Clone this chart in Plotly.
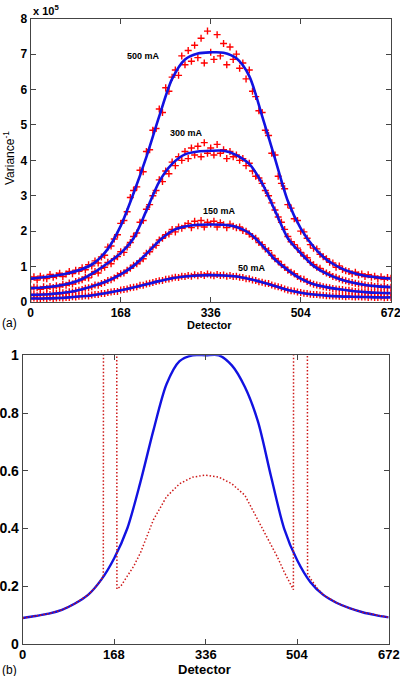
import plotly.graph_objects as go

W, H = 400, 676

# ---------------- data (top panel, values in units of 1e5) ----------------
detector_fit = list(range(0, 673, 24))
detector_meas = list(range(0, 673, 6))
currents = ["500 mA", "300 mA", "150 mA", "50 mA"]

fit_500 = [0.66, 0.70, 0.75, 0.82, 0.93, 1.12, 1.5, 2.15, 3.07, 4.1,
           5.25, 6.3, 6.85, 7.02, 7.05, 7.04, 6.88, 6.38, 5.25, 4.05,
           2.85, 2.08, 1.56, 1.2, 0.98, 0.83, 0.74, 0.69, 0.66]
fit_300 = [0.39, 0.41, 0.45, 0.52, 0.65, 0.85, 1.1, 1.38, 1.8, 2.58,
           3.4, 3.9, 4.17, 4.25, 4.27, 4.27, 4.15, 3.9, 3.35, 2.58,
           1.8, 1.38, 1.02, 0.8, 0.65, 0.55, 0.48, 0.44, 0.42]
fit_150 = [0.2, 0.21, 0.24, 0.28, 0.36, 0.47, 0.6, 0.78, 1.02, 1.36,
           1.73, 2.01, 2.13, 2.18, 2.19, 2.18, 2.12, 1.95, 1.6, 1.2,
           0.9, 0.66, 0.5, 0.42, 0.36, 0.31, 0.28, 0.26, 0.25]
fit_50 = [0.1, 0.1, 0.11, 0.13, 0.16, 0.2, 0.26, 0.33, 0.41, 0.5,
          0.59, 0.67, 0.72, 0.75, 0.76, 0.75, 0.72, 0.65, 0.56, 0.45,
          0.34, 0.26, 0.21, 0.18, 0.16, 0.15, 0.14, 0.13, 0.13]

meas_500 = (
    [0.64, 0.71, 0.62, 0.73, 0.68, 0.66, 0.78, 0.70]
    + [0.74, 0.81, 0.72, 0.79, 0.86, 0.80, 0.90, 0.87]
    + [0.97, 0.91, 1.05, 1.02, 1.16, 1.10, 1.27, 1.32]
    + [1.55, 1.58, 1.78, 1.90, 2.22, 2.30, 2.55, 2.95]
    + [3.15, 3.25, 3.72, 3.68, 4.25, 4.30, 4.85, 4.90]
    + [5.45, 5.35, 6.05, 5.95, 6.35, 6.55, 6.40, 6.95]
    + [6.70, 7.10, 6.80, 7.25, 6.90, 7.45, 6.75, 7.65]
    + [7.05, 6.85, 7.55, 6.95, 7.30, 6.70, 7.20, 6.85]
    + [7.00, 6.60, 6.75, 6.30, 6.55, 5.95, 5.80, 5.40]
    + [5.35, 4.85, 4.70, 4.20, 4.15, 3.55, 3.35, 3.20]
    + [2.75, 2.65, 2.35, 2.30, 2.00, 1.98, 1.80, 1.62]
    + [1.52, 1.50, 1.35, 1.28, 1.22, 1.12, 1.10, 0.98]
    + [1.02, 0.92, 0.88, 0.86, 0.80, 0.84, 0.76, 0.79]
    + [0.72, 0.77, 0.70, 0.73, 0.66, 0.71, 0.64, 0.69]
    + [0.67]
)
meas_300 = (
    [0.37, 0.42, 0.40, 0.36, 0.43, 0.39, 0.44, 0.41]
    + [0.46, 0.43, 0.50, 0.47, 0.54, 0.51, 0.58, 0.60]
    + [0.63, 0.70, 0.68, 0.78, 0.86, 0.82, 0.95, 0.98]
    + [1.12, 1.08, 1.22, 1.28, 1.42, 1.40, 1.55, 1.68]
    + [1.85, 1.95, 2.25, 2.30, 2.62, 2.75, 3.00, 3.15]
    + [3.45, 3.40, 3.70, 3.62, 3.95, 3.85, 4.10, 4.00]
    + [4.25, 4.05, 4.35, 4.15, 4.40, 4.10, 4.50, 4.20]
    + [4.35, 4.15, 4.45, 4.20, 4.30, 4.05, 4.25, 4.10]
    + [4.15, 4.00, 4.05, 3.85, 3.92, 3.70, 3.55, 3.50]
    + [3.35, 3.15, 3.00, 2.80, 2.60, 2.40, 2.25, 2.05]
    + [1.85, 1.70, 1.62, 1.52, 1.40, 1.30, 1.25, 1.12]
    + [1.05, 0.98, 0.95, 0.86, 0.82, 0.78, 0.72, 0.70]
    + [0.66, 0.62, 0.60, 0.57, 0.55, 0.53, 0.51, 0.50]
    + [0.48, 0.46, 0.47, 0.44, 0.45, 0.42, 0.44, 0.41]
    + [0.42]
)
meas_150 = (
    [0.19, 0.21, 0.18, 0.22, 0.20, 0.23, 0.21, 0.22]
    + [0.25, 0.23, 0.26, 0.25, 0.29, 0.28, 0.32, 0.33]
    + [0.35, 0.39, 0.40, 0.43, 0.48, 0.47, 0.52, 0.55]
    + [0.61, 0.63, 0.68, 0.74, 0.80, 0.82, 0.90, 0.95]
    + [1.04, 1.08, 1.16, 1.22, 1.38, 1.42, 1.55, 1.60]
    + [1.75, 1.80, 1.90, 1.92, 2.05, 1.98, 2.12, 2.08]
    + [2.15, 2.22, 2.10, 2.28, 2.15, 2.30, 2.12, 2.25]
    + [2.20, 2.28, 2.12, 2.24, 2.18, 2.10, 2.20, 2.14]
    + [2.10, 2.12, 2.02, 2.00, 1.92, 1.85, 1.80, 1.68]
    + [1.62, 1.50, 1.45, 1.32, 1.22, 1.15, 1.05, 0.98]
    + [0.90, 0.84, 0.80, 0.72, 0.66, 0.64, 0.58, 0.54]
    + [0.50, 0.48, 0.46, 0.43, 0.42, 0.40, 0.38, 0.37]
    + [0.36, 0.35, 0.33, 0.33, 0.31, 0.30, 0.29, 0.29]
    + [0.28, 0.27, 0.27, 0.26, 0.26, 0.25, 0.26, 0.25]
    + [0.25]
)
meas_50 = (
    [0.09, 0.11, 0.10, 0.08, 0.11, 0.10, 0.12, 0.09]
    + [0.11, 0.12, 0.11, 0.13, 0.13, 0.15, 0.14, 0.16]
    + [0.16, 0.18, 0.17, 0.20, 0.21, 0.21, 0.24, 0.24]
    + [0.27, 0.28, 0.30, 0.30, 0.34, 0.35, 0.37, 0.40]
    + [0.42, 0.43, 0.47, 0.47, 0.51, 0.53, 0.55, 0.58]
    + [0.60, 0.61, 0.64, 0.65, 0.68, 0.70, 0.69, 0.73]
    + [0.72, 0.75, 0.73, 0.77, 0.74, 0.78, 0.75, 0.79]
    + [0.76, 0.74, 0.78, 0.75, 0.76, 0.73, 0.75, 0.72]
    + [0.73, 0.70, 0.69, 0.66, 0.66, 0.62, 0.61, 0.57]
    + [0.56, 0.53, 0.52, 0.48, 0.45, 0.43, 0.40, 0.37]
    + [0.34, 0.32, 0.31, 0.28, 0.27, 0.25, 0.24, 0.22]
    + [0.21, 0.21, 0.20, 0.19, 0.18, 0.18, 0.17, 0.17]
    + [0.16, 0.16, 0.15, 0.16, 0.15, 0.14, 0.15, 0.14]
    + [0.14, 0.13, 0.14, 0.13, 0.13, 0.14, 0.12, 0.13]
    + [0.13]
)
# label anchor (detector, value) for each current
label_pos = [(211, 6.96), (290, 4.76), (353, 2.57), (413, 0.96)]

# ---------------- data (bottom panel) ----------------
norm_fit = [0.09, 0.097, 0.105, 0.118, 0.14, 0.17, 0.222, 0.297, 0.40, 0.56,
            0.74, 0.90, 0.98, 1.0, 1.0, 1.0, 0.965, 0.89, 0.77, 0.58,
            0.40, 0.29, 0.215, 0.17, 0.143, 0.124, 0.11, 0.10, 0.092]
ratio_x = [0, 24, 48, 72, 96, 120, 132, 144, 148, 149, 172, 173, 180, 192, 204,
           216, 228, 240, 264, 288, 312, 336, 360, 384, 408, 432, 444, 456, 468,
           480, 492, 497, 498, 522, 523, 528, 540, 552, 576, 600, 624, 648, 672]
ratio_y = [0.09, 0.097, 0.105, 0.118, 0.14, 0.17, 0.193, 0.222, 0.235, 3, 3, 0.19,
           0.20, 0.235, 0.27, 0.315, 0.37, 0.43, 0.51, 0.555, 0.578, 0.585, 0.578,
           0.555, 0.515, 0.43, 0.39, 0.345, 0.30, 0.25, 0.207, 0.188, 3, 3, 0.245,
           0.228, 0.195, 0.17, 0.143, 0.124, 0.11, 0.10, 0.092]

x_ticks = [0, 168, 336, 504, 672]
top_y_ticks = [0, 1, 2, 3, 4, 5, 6, 7, 8]
bot_y_ticks = [0, 0.2, 0.4, 0.6, 0.8, 1]
bot_y_text = ["0", "0.2", "0.4", "0.6", "0.8", "1"]

BLUE = "rgb(18,18,225)"
RED = "rgb(255,0,0)"
RED_DOT = "rgb(205,25,25)"
AX = "#444444"
FONT = "Liberation Sans"

fits = [fit_500, fit_300, fit_150, fit_50]
meas = [meas_500, meas_300, meas_150, meas_50]

fig = go.Figure()
for m in meas:
    fig.add_trace(go.Scatter(x=detector_meas[:len(m)], y=m, mode="markers",
                             marker=dict(symbol="cross-thin", size=5, color=RED,
                                         line=dict(color=RED, width=1.4)),
                             xaxis="x", yaxis="y", showlegend=False))
for f in fits:
    fig.add_trace(go.Scatter(x=detector_fit, y=f, mode="lines",
                             line=dict(color=BLUE, width=2.6, shape="spline", smoothing=0.8),
                             xaxis="x", yaxis="y", showlegend=False))

fig.add_trace(go.Scatter(x=detector_fit, y=norm_fit, mode="lines",
                         line=dict(color=BLUE, width=2.4, shape="spline", smoothing=0.8),
                         xaxis="x2", yaxis="y2", showlegend=False, cliponaxis=False))
fig.add_trace(go.Scatter(x=ratio_x, y=ratio_y, mode="lines",
                         line=dict(color=RED_DOT, width=1.5, dash="1.5px,2px"),
                         xaxis="x2", yaxis="y2", showlegend=False))


def px(x, y):
    return x / W, 1 - y / H


axis_common = dict(showline=True, linecolor=AX, linewidth=1, mirror="ticks",
                   ticks="inside", ticklen=5, tickcolor=AX, showgrid=False,
                   zeroline=False, automargin=False, ticklabeloverflow="allow")

fig.update_layout(
    width=W, height=H,
    margin=dict(l=0, r=0, t=0, b=0),
    paper_bgcolor="white", plot_bgcolor="white",
    showlegend=False,
    xaxis=dict(domain=[30.7 / W, 390.7 / W], range=[0, 672], anchor="y",
               tickvals=x_ticks, ticktext=[str(v) for v in x_ticks],
               tickfont=dict(family=FONT, size=12, color="black", weight="bold"),
               **axis_common),
    yaxis=dict(domain=[1 - 302 / H, 1 - 18.7 / H], range=[0, 8], anchor="x",
               tickvals=top_y_ticks, ticktext=[str(v) for v in top_y_ticks],
               tickfont=dict(family=FONT, size=12, color="black", weight="bold"),
               **axis_common),
    xaxis2=dict(domain=[22.7 / W, 388.7 / W], range=[0, 672], anchor="y2",
                tickvals=x_ticks, showticklabels=False,
                **axis_common),
    yaxis2=dict(domain=[1 - 644 / H, 1 - 355.3 / H], range=[0, 1], anchor="x2",
                tickvals=bot_y_ticks, ticktext=bot_y_text,
                tickfont=dict(family=FONT, size=14, color="black", weight="bold"),
                **axis_common),
)

ann = []
for name, (dx, dy) in zip(currents, label_pos):
    ann.append(dict(x=dx, y=dy, xref="x", yref="y", text=name, showarrow=False,
                    font=dict(family=FONT, size=9, color="black", weight="bold")))

# bottom panel x tick labels, placed close to the axis as in the reference
for t in x_ticks:
    ann.append(dict(x=t, y=1 - 654.5 / H, xref="x2", yref="paper", text=str(t),
                    showarrow=False, xanchor="center", yanchor="middle",
                    font=dict(family=FONT, size=13, color="black", weight="bold")))


def paper_text(text, x, y, size, bold=False, angle=0, xanchor="center"):
    X, Y = px(x, y)
    ann.append(dict(x=X, y=Y, xref="paper", yref="paper", text=text, showarrow=False,
                    textangle=angle, xanchor=xanchor, yanchor="middle",
                    font=dict(family=FONT, size=size, color="black",
                              weight="bold" if bold else "normal")))


paper_text("x 10<sup>5</sup>", 31, 10, 11, bold=True, xanchor="left")
paper_text("Variance<sup>-1</sup>", 9, 158, 12, angle=-90)
paper_text("Detector", 209, 325, 11, bold=True)
paper_text("(a)", 0, 323, 12, xanchor="left")
paper_text("Detector", 204, 669.5, 13, bold=True)
paper_text("(b)", 0, 669.5, 12, xanchor="left")

fig.update_layout(annotations=ann)
fig.write_html("out.html",
               config={"displayModeBar": False},
               post_script="document.body.style.margin='0';document.body.style.padding='0';")
